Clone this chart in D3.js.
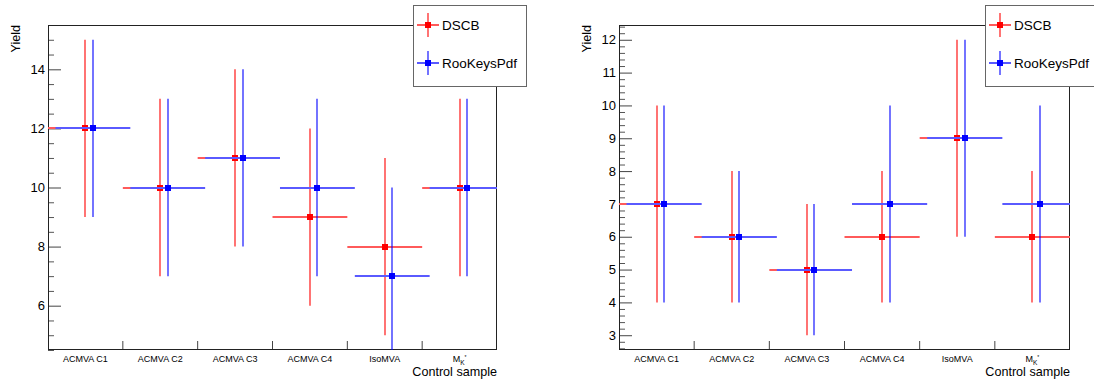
<!DOCTYPE html>
<html>
<head>
<meta charset="utf-8">
<script src="https://cdn.jsdelivr.net/npm/d3@7"></script>
<style>
  html, body { margin: 0; padding: 0; background: #fff; }
  svg { display: block; font-family: "Liberation Sans", Arial, Helvetica, sans-serif; }
</style>
</head>
<body>
<svg id="chart" width="1094" height="385"></svg>
<script>
// ---- data ----
const categories = ["ACMVA C1", "ACMVA C2", "ACMVA C3", "ACMVA C4", "IsoMVA", "M_K*"];
const seriesNames = ["DSCB", "RooKeysPdf"];

// left panel
const dscbLeft     = [12, 10, 11, 9, 8, 10];
const dscbLeftErr  = [3, 3, 3, 3, 3, 3];
const keysLeft     = [12, 10, 11, 10, 7, 10];
const keysLeftErr  = [3, 3, 3, 3, 3, 3];
const leftMajorTicks = [6, 8, 10, 12, 14];

// right panel
const dscbRight    = [7, 6, 5, 6, 9, 6];
const dscbRightErr = [3, 2, 2, 2, 3, 2];
const keysRight    = [7, 6, 5, 7, 9, 7];
const keysRightErr = [3, 2, 2, 3, 3, 3];
const rightMajorTicks = [3, 4, 5, 6, 7, 8, 9, 10, 11, 12];

const svg = d3.select("#chart");
const LW = 1.1;

function drawPanel(opt) {
  const g = svg.append("g");
  const x = d3.scaleBand().domain(categories).range([opt.x0, opt.x1]).padding(0);
  const y = d3.scaleLinear().domain(opt.yDomain).range([opt.y1, opt.y0]);
  const bw = x.bandwidth();

  const clipId = "clip" + opt.id;
  svg.append("clipPath").attr("id", clipId)
    .append("rect").attr("x", opt.x0).attr("y", opt.y0)
    .attr("width", opt.x1 - opt.x0).attr("height", opt.y1 - opt.y0);

  // minor y ticks
  g.append("g").attr("transform", `translate(${opt.x0},0)`)
    .call(d3.axisLeft(y).tickValues(opt.minorTicks).tickSize(-6).tickSizeOuter(0).tickFormat(""))
    .call(s => s.select(".domain").remove())
    .call(s => s.selectAll("line").attr("stroke", "#555"));
  // major y ticks
  g.append("g").attr("transform", `translate(${opt.x0},0)`)
    .call(d3.axisLeft(y).tickValues(opt.majorTicks).tickSize(-13).tickSizeOuter(0).tickPadding(3).tickFormat(d3.format("d")))
    .call(s => s.select(".domain").remove())
    .call(s => s.selectAll("line").attr("stroke", "#444"))
    .call(s => s.selectAll("text").attr("font-size", 13).attr("fill", "#000")
      .attr("font-family", "Liberation Sans, Arial, sans-serif"));

  // x axis labels
  const xa = g.append("g").attr("transform", `translate(0,${opt.y1})`)
    .call(d3.axisBottom(x).tickSize(0).tickPadding(6))
    .call(s => s.select(".domain").remove());
  xa.selectAll("text").attr("font-size", 9).attr("fill", "#000")
    .attr("font-family", "Liberation Sans, Arial, sans-serif")
    .each(function(d) {
      if (d.startsWith("M_")) {
        const t = d3.select(this);
        t.text("");
        t.append("tspan").text("M");
        t.append("tspan").attr("font-size", 6.5).attr("dy", 3).text("K");
        t.append("tspan").attr("font-size", 5).attr("dy", -6).text("*");
      }
    });

  // x ticks at bin edges (pointing upward)
  g.append("g").selectAll("line").data(categories.slice(1)).join("line")
    .attr("x1", d => x(d)).attr("x2", d => x(d))
    .attr("y1", opt.y1).attr("y2", opt.y1 - 9)
    .attr("stroke", "#444");

  // frame
  g.append("rect").attr("x", opt.x0 + 0.5).attr("y", opt.y0 + 0.5)
    .attr("width", opt.x1 - opt.x0 - 1).attr("height", opt.y1 - opt.y0 - 1)
    .attr("fill", "none").attr("stroke", "#222").attr("stroke-width", 1);

  // data
  const series = [
    { vals: opt.dscb, errs: opt.dscbErr, color: "#ff0000", light: "#ff5a5a", shift: 0 },
    { vals: opt.keys, errs: opt.keysErr, color: "#0000ff", light: "#5a5aff", shift: 0.1 }
  ];
  const dg = g.append("g").attr("clip-path", `url(#${clipId})`);
  series.forEach(s => {
    const pts = categories.map((c, i) => ({ c, v: s.vals[i], e: s.errs[i] }));
    const cx = d => Math.round(x(d.c) + bw / 2 + s.shift * bw);
    const sg = dg.append("g");
    sg.selectAll("line.h").data(pts).join("line").attr("class", "h")
      .attr("x1", d => x(d.c) + s.shift * bw).attr("x2", d => x(d.c) + bw + s.shift * bw)
      .attr("y1", d => Math.round(y(d.v))).attr("y2", d => Math.round(y(d.v)))
      .attr("stroke", s.light).attr("stroke-width", 2);
    sg.selectAll("line.v").data(pts).join("line").attr("class", "v")
      .attr("x1", cx).attr("x2", cx)
      .attr("y1", d => y(d.v - d.e)).attr("y2", d => y(d.v + d.e))
      .attr("stroke", s.color).attr("stroke-width", LW);
    sg.selectAll("rect").data(pts).join("rect")
      .attr("x", d => cx(d) - 3)
      .attr("y", d => Math.round(y(d.v)) - 3)
      .attr("width", 6).attr("height", 6).attr("fill", s.color);
  });

  // axis titles
  g.append("text").attr("transform", `translate(${opt.x0 - 28},${opt.y0}) rotate(-90)`)
    .attr("text-anchor", "end").attr("font-size", 12.6).attr("fill", "#000").text("Yield");
  g.append("text").attr("x", opt.x1).attr("y", 376)
    .attr("text-anchor", "end").attr("font-size", 12.6).attr("fill", "#000").text("Control sample");

  // legend
  const lg = g.append("g").attr("transform", `translate(${opt.legendX},5)`);
  lg.append("rect").attr("x", 0.5).attr("y", 0.5).attr("width", 113).attr("height", 81)
    .attr("fill", "#fff").attr("stroke", "#666").attr("stroke-width", 1);
  const lItems = [
    { name: seriesNames[0], color: "#ff0000", light: "#ff5a5a", cy: 20 },
    { name: seriesNames[1], color: "#0000ff", light: "#5a5aff", cy: 58 }
  ];
  lItems.forEach(it => {
    const cx = 15;
    lg.append("line").attr("x1", cx - 11).attr("x2", cx + 11).attr("y1", it.cy).attr("y2", it.cy)
      .attr("stroke", it.light).attr("stroke-width", 2);
    lg.append("line").attr("x1", cx).attr("x2", cx).attr("y1", it.cy - 12).attr("y2", it.cy + 12)
      .attr("stroke", it.color).attr("stroke-width", LW);
    lg.append("rect").attr("x", cx - 3).attr("y", it.cy - 3).attr("width", 6).attr("height", 6).attr("fill", it.color);
    lg.append("text").attr("x", 29).attr("y", it.cy + 5).attr("font-size", 13.5).attr("fill", "#000").text(it.name);
  });
}

const leftMinor = d3.range(4.5, 15.51, 0.5).filter(v => v % 2 !== 0);
const rightMinor = d3.range(2.6, 12.45, 0.2).map(v => +v.toFixed(1)).filter(v => Math.abs(v - Math.round(v)) > 1e-6);

drawPanel({
  id: "L", x0: 48, x1: 497, y0: 25, y1: 350, yDomain: [4.5, 15.5],
  majorTicks: leftMajorTicks, minorTicks: leftMinor,
  dscb: dscbLeft, dscbErr: dscbLeftErr, keys: keysLeft, keysErr: keysLeftErr,
  legendX: 413
});
drawPanel({
  id: "R", x0: 619, x1: 1070, y0: 25, y1: 350, yDomain: [2.55, 12.45],
  majorTicks: rightMajorTicks, minorTicks: rightMinor,
  dscb: dscbRight, dscbErr: dscbRightErr, keys: keysRight, keysErr: keysRightErr,
  legendX: 985
});
</script>
</body>
</html>
